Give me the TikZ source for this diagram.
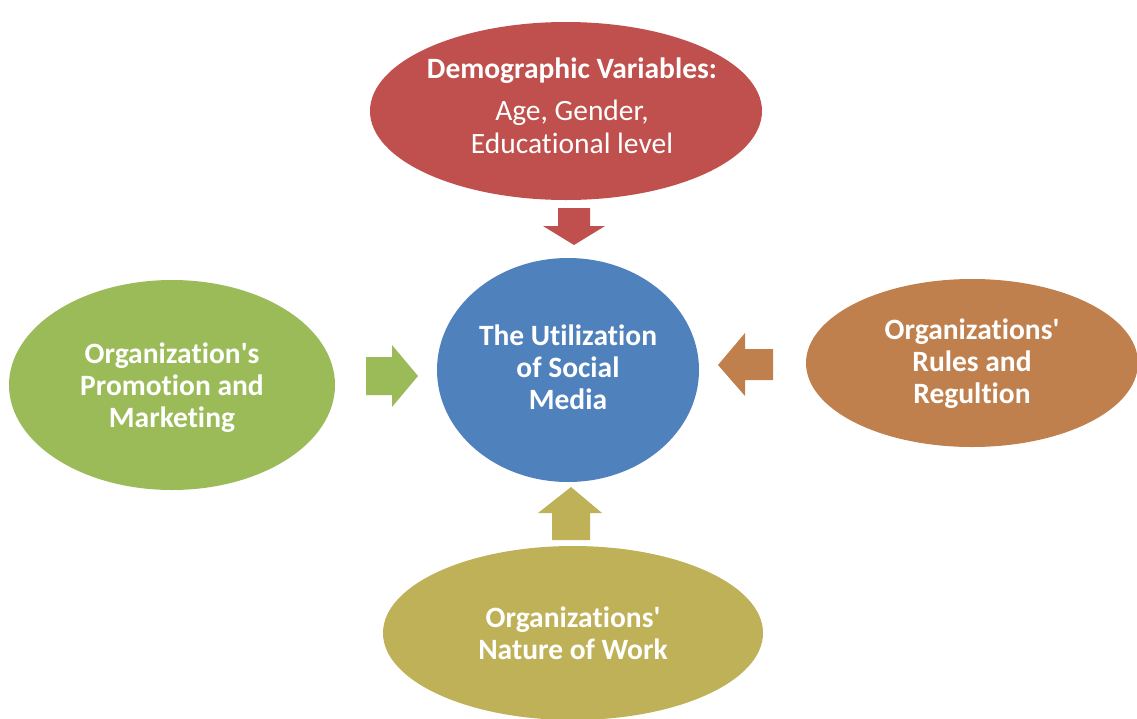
\documentclass[tikz,border=0pt]{standalone}
\usepackage{fontspec}
\setmainfont{Carlito}[Ligatures={NoCommon}]
\usetikzlibrary{shapes.geometric}
\definecolor{cred}{HTML}{C0504D}
\definecolor{cblue}{HTML}{4F81BD}
\definecolor{cgreen}{HTML}{9BBB59}
\definecolor{corange}{HTML}{C0804E}
\definecolor{colive}{HTML}{BFB157}
\begin{document}
\begin{tikzpicture}[x=1pt,y=-1pt,
  blob/.style={ellipse, inner sep=0pt},
  label/.style={inner sep=0pt, align=center, text=white,
    font=\bfseries\fontsize{29.5}{32}\selectfont}]
\useasboundingbox (0,0) rectangle (1137,718);
% factor ellipses and the central circle
\node[blob, fill=cred,    minimum width=392pt, minimum height=178pt] (demo)  at (566,111) {};
\node[blob, fill=cblue,   minimum width=262pt, minimum height=224pt] (use)   at (568,370) {};
\node[blob, fill=cgreen,  minimum width=326pt, minimum height=210pt] (promo) at (172,385) {};
\node[blob, fill=corange, minimum width=332pt, minimum height=168pt] (rules) at (972,363) {};
\node[blob, fill=colive,  minimum width=380pt, minimum height=174pt] (work)  at (573,633) {};
% their texts
\node[label, font=\fontsize{29.5}{33}\selectfont] (demo-t) at ([xshift=6pt,yshift=5pt]demo)
  {\textbf{Demographic Variables:}\\[9.5pt]Age, Gender,\\Educational level};
\node[label] (use-t) at ([yshift=3pt]use) {The Utilization\\of Social\\Media};
\node[label] (promo-t) at ([yshift=-3pt]promo) {Organization\textquotesingle s\\Promotion and\\Marketing};
\node[label] (rules-t) at ([yshift=-1pt]rules) {Organizations\textquotesingle\\Rules and\\Regultion};
\node[label] (work-t) at (work) {Organizations\textquotesingle\\Nature of Work};
% block arrows pointing at the centre
\fill[cred] (558,208) -- (590,208) -- (590,226) -- (605,226) -- (574,245) -- (543,226) -- (558,226) -- cycle;
\fill[cgreen] (366,357) -- (392,357) -- (392,345) -- (418,376) -- (392,407) -- (392,395) -- (366,395) -- cycle;
\fill[corange] (773,349) -- (745,349) -- (745,333) -- (718,365) -- (745,396) -- (745,380) -- (773,380) -- cycle;
\fill[colive] (552,540) -- (590,540) -- (590,513) -- (602,513) -- (571,487) -- (538,513) -- (552,513) -- cycle;
\end{tikzpicture}
\end{document}
